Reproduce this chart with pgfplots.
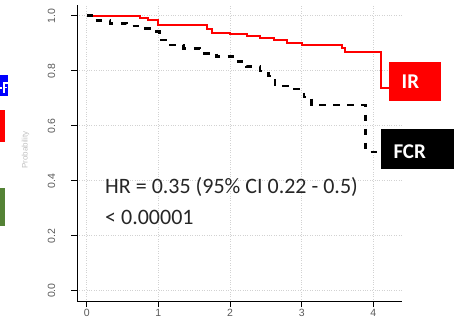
\documentclass[border=0pt]{standalone}
\usepackage{pgfplots}
\pgfplotsset{compat=1.18}
\usepackage{fontspec}
\setmainfont{Carlito}
\newfontfamily\tickfont{Liberation Sans}
\definecolor{fgreen}{HTML}{548235}
\begin{document}
\begin{tikzpicture}[x=1pt,y=1pt]
\useasboundingbox (0,0) rectangle (461,329);
% fragments of neighbouring panels
\fill[blue] (0,233) rectangle (7.5,254);
\fill[white] (0,240) rectangle (2.2,242.2);
\fill[white] (3.3,236) rectangle (5,247);
\fill[white] (3.3,245) rectangle (7.5,247);
\fill[white] (3.3,240.5) rectangle (6.5,242.3);
\fill[red] (0,187) rectangle (5,219);
\fill[fgreen] (0,103) rectangle (5,141);
\node[rotate=90, text=gray!50, font=\tickfont\fontsize{8}{9}\selectfont, inner sep=0pt] at (25.5,179) {Probability};
\node[rotate=90, text=gray!50, font=\tickfont\fontsize{8}{9}\selectfont, inner sep=0pt] at (441,181) {Probability};
\begin{axis}[
  at={(77pt,27.3pt)}, anchor=south west,
  scale only axis, width=325pt, height=296.7pt,
  xmin=-0.135, xmax=4.40, ymin=-0.04, ymax=1.039,
  axis lines*=left,
  axis line style={line width=1pt, black},
  xtick={0,1,2,3,4}, ytick={0,0.2,0.4,0.6,0.8,1},
  tick align=outside, major tick length=5.5pt,
  tick style={line width=0.9pt, black},
  grid=major, major grid style={dotted, gray!35, line width=0.7pt},
  /pgf/number format/assume math mode=true,
  tick label style={font=\tickfont\fontsize{10.5}{12}\selectfont, text=black!65},
  yticklabel style={rotate=90, anchor=south, inner sep=0pt, /pgf/number format/.cd, fixed, fixed zerofill, precision=1},
  xticklabel style={anchor=north, inner sep=0pt},
  yticklabel shift=16pt, xticklabel shift=2pt,
]
\addplot[const plot, red, line width=2pt] coordinates {
(0,1.0) (0.75,0.993) (0.86,0.985) (1.0,0.966) (1.68,0.950) (1.75,0.938)
(2.0,0.932) (2.24,0.927) (2.42,0.920) (2.61,0.912) (2.79,0.902) (3.0,0.895)
(3.56,0.881) (3.61,0.867) (4.10,0.736) (4.25,0.736)};
\addplot[const plot, black, line width=2.6pt, dash pattern=on 6.5pt off 7.5pt] coordinates {
(0,1.0) (0.116,0.982) (0.325,0.972) (0.558,0.963) (0.814,0.954) (0.977,0.942)
(1.014,0.912) (1.163,0.893) (1.35,0.881) (1.583,0.863) (1.815,0.851) (2.07,0.833)
(2.234,0.815) (2.42,0.799) (2.537,0.781) (2.63,0.744) (2.84,0.733) (3.03,0.705)
(3.14,0.675) (3.89,0.505) (4.12,0.505)};
\end{axis}
\node[anchor=base west, inner sep=0pt, text=black!85, font=\fontsize{22}{26}\selectfont] at (105,135) {HR = 0.35 (95\% CI 0.22 - 0.5)};
\node[anchor=base west, inner sep=0pt, text=black!85, font=\fontsize{22}{26}\selectfont] at (105,104) {< 0.00001};
\fill[red] (389,228) rectangle (441,267);
\node[anchor=base west, inner sep=0pt, text=white, font=\bfseries\fontsize{21}{24}\selectfont] at (401.5,240.7) {IR};
\fill[black] (381,159.7) rectangle (454,199.7);
\node[anchor=base west, inner sep=0pt, text=white, font=\bfseries\fontsize{21}{24}\selectfont] at (393.3,170.7) {FCR};
\end{tikzpicture}
\end{document}
